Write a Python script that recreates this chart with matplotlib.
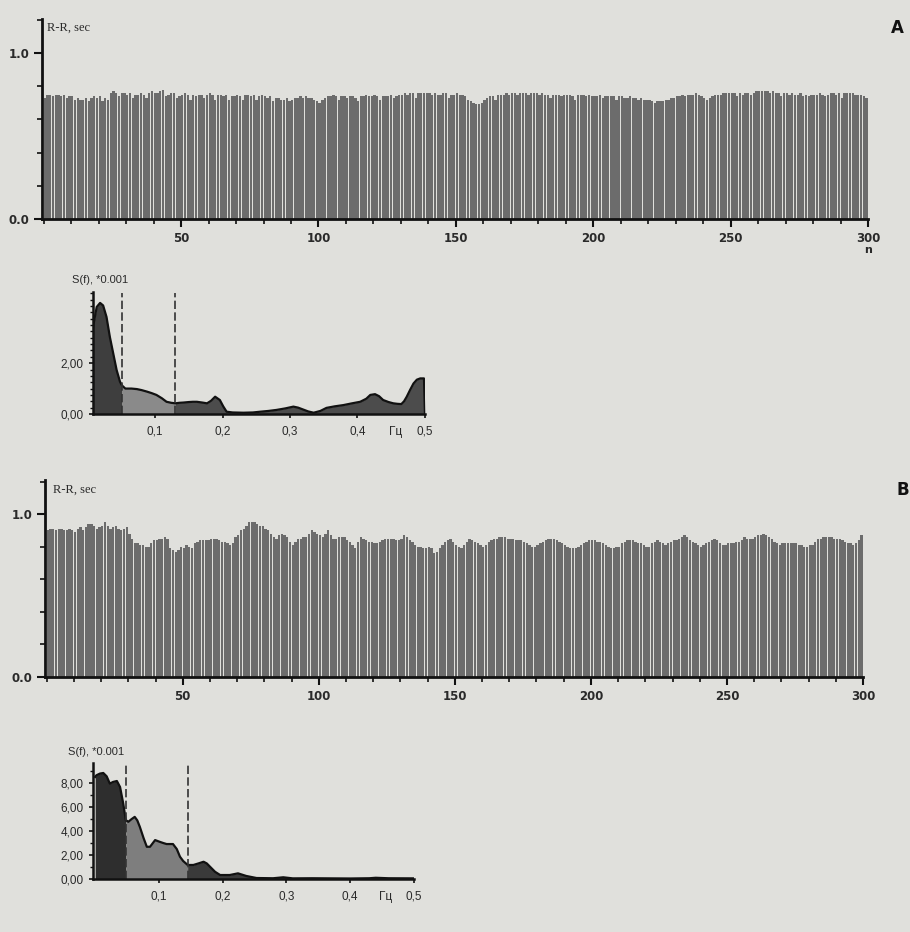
import numpy as np
import matplotlib.pyplot as plt
from matplotlib.ticker import MultipleLocator

BG = "#e0e0dc"
BAR = "#6c6c6c"
INK = "#2a2a2a"

# R-R intervals, sec (beats 1..300)
rr_a = [
    0.73, 0.75, 0.75, 0.74, 0.75, 0.75, 0.74, 0.75, 0.73, 0.74, 0.74, 0.72, 0.73, 0.72, 0.72, 0.73, 0.71, 0.73, 0.74, 0.73,
    0.74, 0.71, 0.73, 0.72, 0.76, 0.77, 0.76, 0.74, 0.76, 0.76, 0.75, 0.76, 0.73, 0.75, 0.75, 0.76, 0.75, 0.73, 0.76, 0.77,
    0.76, 0.76, 0.77, 0.78, 0.74, 0.75, 0.76, 0.76, 0.73, 0.74, 0.75, 0.76, 0.75, 0.72, 0.75, 0.74, 0.75, 0.75, 0.73, 0.75,
    0.76, 0.75, 0.72, 0.75, 0.75, 0.74, 0.75, 0.72, 0.74, 0.74, 0.75, 0.74, 0.72, 0.75, 0.75, 0.74, 0.75, 0.72, 0.74, 0.75,
    0.74, 0.73, 0.74, 0.71, 0.73, 0.73, 0.72, 0.72, 0.73, 0.71, 0.72, 0.73, 0.73, 0.74, 0.73, 0.74, 0.73, 0.73, 0.72, 0.71,
    0.70, 0.72, 0.73, 0.74, 0.74, 0.75, 0.74, 0.72, 0.74, 0.74, 0.73, 0.74, 0.74, 0.73, 0.71, 0.74, 0.74, 0.75, 0.74, 0.74,
    0.75, 0.74, 0.72, 0.74, 0.74, 0.74, 0.75, 0.73, 0.74, 0.75, 0.75, 0.76, 0.75, 0.76, 0.76, 0.73, 0.76, 0.76, 0.76, 0.76,
    0.76, 0.75, 0.76, 0.75, 0.75, 0.76, 0.76, 0.73, 0.75, 0.75, 0.76, 0.75, 0.75, 0.74, 0.72, 0.71, 0.70, 0.69, 0.69, 0.70,
    0.72, 0.73, 0.74, 0.74, 0.72, 0.75, 0.75, 0.75, 0.76, 0.75, 0.76, 0.76, 0.75, 0.76, 0.76, 0.76, 0.75, 0.76, 0.76, 0.76,
    0.75, 0.76, 0.75, 0.75, 0.73, 0.75, 0.75, 0.75, 0.74, 0.75, 0.75, 0.75, 0.74, 0.72, 0.75, 0.75, 0.75, 0.74, 0.75, 0.74,
    0.74, 0.74, 0.75, 0.73, 0.74, 0.74, 0.74, 0.74, 0.72, 0.74, 0.74, 0.73, 0.73, 0.74, 0.73, 0.73, 0.72, 0.73, 0.72, 0.72,
    0.72, 0.71, 0.70, 0.71, 0.71, 0.71, 0.72, 0.72, 0.73, 0.73, 0.74, 0.74, 0.75, 0.74, 0.75, 0.75, 0.75, 0.76, 0.75, 0.74,
    0.73, 0.72, 0.73, 0.74, 0.75, 0.75, 0.75, 0.76, 0.76, 0.76, 0.76, 0.76, 0.74, 0.76, 0.75, 0.76, 0.76, 0.75, 0.76, 0.77,
    0.77, 0.77, 0.77, 0.77, 0.76, 0.77, 0.76, 0.76, 0.74, 0.76, 0.76, 0.75, 0.76, 0.75, 0.75, 0.76, 0.74, 0.75, 0.74, 0.75,
    0.75, 0.75, 0.76, 0.75, 0.74, 0.75, 0.76, 0.76, 0.75, 0.76, 0.73, 0.76, 0.76, 0.76, 0.76, 0.75, 0.75, 0.75, 0.74, 0.73,
]
rr_b = [
    0.90, 0.91, 0.91, 0.90, 0.91, 0.91, 0.90, 0.90, 0.91, 0.90, 0.89, 0.91, 0.92, 0.90, 0.92, 0.94, 0.94, 0.93, 0.91, 0.92,
    0.93, 0.95, 0.93, 0.91, 0.92, 0.93, 0.91, 0.90, 0.91, 0.92, 0.88, 0.85, 0.82, 0.82, 0.81, 0.81, 0.80, 0.80, 0.82, 0.84,
    0.84, 0.85, 0.85, 0.86, 0.85, 0.79, 0.78, 0.77, 0.78, 0.80, 0.79, 0.81, 0.80, 0.79, 0.82, 0.83, 0.84, 0.84, 0.84, 0.84,
    0.85, 0.85, 0.85, 0.84, 0.83, 0.83, 0.82, 0.81, 0.82, 0.86, 0.87, 0.90, 0.91, 0.93, 0.95, 0.95, 0.95, 0.94, 0.93, 0.93,
    0.91, 0.90, 0.88, 0.86, 0.85, 0.87, 0.88, 0.87, 0.86, 0.83, 0.81, 0.83, 0.85, 0.85, 0.86, 0.86, 0.88, 0.90, 0.89, 0.88,
    0.87, 0.86, 0.88, 0.90, 0.87, 0.85, 0.85, 0.86, 0.86, 0.86, 0.84, 0.83, 0.81, 0.79, 0.83, 0.86, 0.85, 0.84, 0.83, 0.83,
    0.82, 0.82, 0.83, 0.84, 0.85, 0.85, 0.85, 0.85, 0.84, 0.84, 0.85, 0.87, 0.86, 0.84, 0.83, 0.81, 0.80, 0.80, 0.79, 0.79,
    0.80, 0.79, 0.76, 0.77, 0.79, 0.81, 0.83, 0.84, 0.85, 0.83, 0.81, 0.80, 0.79, 0.81, 0.83, 0.85, 0.84, 0.83, 0.82, 0.81,
    0.80, 0.81, 0.83, 0.84, 0.85, 0.85, 0.86, 0.86, 0.86, 0.85, 0.85, 0.85, 0.84, 0.84, 0.84, 0.83, 0.82, 0.81, 0.80, 0.80,
    0.81, 0.82, 0.83, 0.84, 0.85, 0.85, 0.85, 0.84, 0.83, 0.82, 0.81, 0.80, 0.79, 0.79, 0.79, 0.80, 0.81, 0.82, 0.83, 0.84,
    0.84, 0.84, 0.83, 0.83, 0.82, 0.81, 0.80, 0.79, 0.79, 0.80, 0.80, 0.82, 0.83, 0.84, 0.84, 0.84, 0.83, 0.82, 0.82, 0.81,
    0.80, 0.80, 0.82, 0.83, 0.84, 0.83, 0.82, 0.81, 0.82, 0.83, 0.84, 0.84, 0.85, 0.86, 0.87, 0.86, 0.84, 0.83, 0.82, 0.81,
    0.80, 0.81, 0.82, 0.83, 0.84, 0.85, 0.84, 0.82, 0.81, 0.81, 0.82, 0.82, 0.82, 0.83, 0.83, 0.84, 0.86, 0.85, 0.85, 0.85,
    0.86, 0.87, 0.87, 0.88, 0.87, 0.86, 0.85, 0.83, 0.82, 0.81, 0.82, 0.82, 0.82, 0.82, 0.82, 0.82, 0.81, 0.81, 0.80, 0.80,
    0.81, 0.81, 0.83, 0.85, 0.85, 0.86, 0.86, 0.86, 0.86, 0.85, 0.85, 0.85, 0.84, 0.83, 0.82, 0.82, 0.81, 0.82, 0.84, 0.87,
]
beat_n = np.arange(1, len(rr_a) + 1)

# spectra S(f) * 0.001, frequency in Hz
spec_a_freq = [0.008, 0.009, 0.0135, 0.0185, 0.023, 0.028, 0.033, 0.038, 0.043, 0.048, 0.051, 0.056,
               0.065, 0.073, 0.080, 0.088, 0.095, 0.102, 0.110, 0.117, 0.124, 0.130, 0.136, 0.142,
               0.150, 0.156, 0.162, 0.170, 0.177, 0.183, 0.189, 0.196, 0.201, 0.206, 0.215, 0.231,
               0.245, 0.256, 0.268, 0.280, 0.293, 0.305, 0.312, 0.319, 0.327, 0.335, 0.345, 0.354,
               0.366, 0.379, 0.392, 0.404, 0.413, 0.419, 0.426, 0.432, 0.438, 0.446, 0.453, 0.459,
               0.465, 0.469, 0.473, 0.478, 0.483, 0.488, 0.493, 0.4985, 0.500]
spec_a_pow = [3.40, 3.56, 4.21, 4.37, 4.27, 3.82, 3.03, 2.38, 1.73, 1.27, 1.12, 1.00,
              1.00, 0.98, 0.94, 0.88, 0.82, 0.75, 0.62, 0.48, 0.44, 0.42, 0.44, 0.45,
              0.47, 0.48, 0.48, 0.45, 0.42, 0.52, 0.68, 0.55, 0.30, 0.09, 0.06, 0.05,
              0.06, 0.09, 0.12, 0.16, 0.22, 0.29, 0.25, 0.18, 0.10, 0.05, 0.12, 0.24,
              0.30, 0.35, 0.42, 0.48, 0.60, 0.75, 0.78, 0.70, 0.55, 0.47, 0.42, 0.40,
              0.39, 0.50, 0.68, 0.95, 1.20, 1.35, 1.40, 1.40, 0.00]
spec_b_freq = [0.0, 0.002, 0.0075, 0.0127, 0.018, 0.023, 0.028, 0.034, 0.039, 0.044, 0.048, 0.052,
               0.057, 0.062, 0.066, 0.070, 0.076, 0.081, 0.086, 0.094, 0.101, 0.107, 0.112, 0.122,
               0.128, 0.133, 0.138, 0.145, 0.154, 0.162, 0.170, 0.175, 0.180, 0.188, 0.196, 0.211,
               0.224, 0.237, 0.253, 0.279, 0.295, 0.310, 0.340, 0.370, 0.400, 0.430, 0.440, 0.460, 0.500]
spec_b_pow = [8.53, 8.67, 8.81, 8.86, 8.58, 7.97, 8.11, 8.19, 7.69, 6.30, 4.92, 4.78,
              5.00, 5.19, 4.90, 4.36, 3.40, 2.69, 2.69, 3.25, 3.11, 3.00, 2.92, 2.92,
              2.50, 1.86, 1.50, 1.17, 1.17, 1.30, 1.44, 1.30, 1.03, 0.60, 0.33, 0.33,
              0.47, 0.25, 0.08, 0.06, 0.14, 0.05, 0.06, 0.05, 0.04, 0.06, 0.10, 0.06, 0.05]
bands_a = (0.051, 0.130)
bands_b = (0.048, 0.145)

rr_xticks = [50, 100, 150, 200, 250, 300]
spec_xticks = [0.1, 0.2, 0.3, 0.4, 0.5]
spec_xticklabels = ["0,1", "0,2", "0,3", "0,4", "0,5"]
spec_a_yticks, spec_a_yticklabels = [0, 2], ["0,00", "2,00"]
spec_b_yticks, spec_b_yticklabels = [0, 2, 4, 6, 8], ["0,00", "2,00", "4,00", "6,00", "8,00"]

NARROW = ["Liberation Sans Narrow", "Liberation Sans", "DejaVu Sans"]

fig = plt.figure(figsize=(9.1, 9.32), dpi=100, facecolor=BG)


def rr_panel(rect, values, ytop):
    ax = fig.add_axes(rect, facecolor="none")
    ax.bar(beat_n - 1, values, width=0.84, align="edge", color=BAR, linewidth=0)
    ax.set_xlim(-0.6, 300)
    ax.set_ylim(0, ytop)
    for s in ("top", "right"):
        ax.spines[s].set_visible(False)
    for s in ("left", "bottom"):
        ax.spines[s].set_linewidth(2)
        ax.spines[s].set_color("#111")
    ax.set_yticks([0.0, 1.0])
    ax.set_yticklabels(["0.0", "1.0"])
    ax.yaxis.set_minor_locator(MultipleLocator(0.2))
    ax.set_xticks(rr_xticks)
    ax.set_xticklabels([str(t) for t in rr_xticks])
    ax.xaxis.set_minor_locator(MultipleLocator(10))
    ax.tick_params(which="major", direction="out", length=6, width=1.5, color="#111",
                   labelsize=8.5, labelcolor=INK, pad=3)
    ax.tick_params(which="minor", direction="out", length=3.5, width=1.2, color="#111")
    for lab in ax.get_xticklabels() + ax.get_yticklabels():
        lab.set_fontweight("bold")
    return ax


def spec_panel(rect, freq, power, bands, xlim, ytop, yticks, ylabels, yminor, colors):
    ax = fig.add_axes(rect, facecolor="none")
    f = np.array(freq)
    p = np.array(power)
    lo, hi = bands
    masks = [f <= lo, (f >= lo) & (f <= hi), f >= hi]
    for m, c in zip(masks, colors):
        ax.fill_between(f[m], 0, p[m], color=c, linewidth=0)
    ax.plot(f, p, color="#111", lw=1.6)
    ax.vlines(bands, 0, ytop * 0.99, colors="#333", linestyles=(0, (5, 2)), lw=1.2)
    ax.set_xlim(*xlim)
    ax.set_ylim(0, ytop)
    for s in ("top", "right"):
        ax.spines[s].set_visible(False)
    for s in ("left", "bottom"):
        ax.spines[s].set_linewidth(1.8)
        ax.spines[s].set_color("#111")
    ax.set_xticks(spec_xticks)
    ax.set_xticklabels(spec_xticklabels, family=NARROW)
    ax.set_yticks(yticks)
    ax.set_yticklabels(ylabels, family=NARROW)
    ax.yaxis.set_minor_locator(MultipleLocator(yminor))
    ax.tick_params(which="major", direction="out", length=3, width=1.2, color="#111",
                   labelsize=8.5, labelcolor=INK, pad=4)
    ax.tick_params(axis="x", which="major", pad=5)
    ax.tick_params(which="minor", direction="out", length=2.5, width=1, color="#111")
    ax.annotate("Гц", xy=(0.456, 0), xycoords=("data", "axes fraction"), xytext=(0, -13),
                textcoords="offset points", ha="center", va="center", fontsize=8.5,
                color=INK, family=NARROW)
    return ax


ax_a = rr_panel([0.0462, 0.7650, 0.9077, 0.2146], rr_a, 1.205)
ax_b = rr_panel([0.0495, 0.2736, 0.8989, 0.2114], rr_b, 1.21)

spec_panel([0.1022, 0.5558, 0.3648, 0.1309], spec_a_freq, spec_a_pow, bands_a,
           (0.008, 0.5), 4.8, spec_a_yticks, spec_a_yticklabels, 0.25,
           ["#3e3e3e", "#8a8a8a", "#4c4c4c"])
spec_panel([0.1025, 0.0569, 0.3524, 0.1245], spec_b_freq, spec_b_pow, bands_b,
           (-0.003, 0.5), 9.7, spec_b_yticks, spec_b_yticklabels, 1.0,
           ["#2e2e2e", "#7e7e7e", "#3a3a3a"])

# labels placed like the printed figure
fig.text(47 / 910, 1 - 28 / 932, "R-R, sec", family="Liberation Serif", fontsize=9,
         color=INK, va="center")
fig.text(53 / 910, 1 - 490 / 932, "R-R, sec", family="Liberation Serif", fontsize=9,
         color=INK, va="center")
fig.text(72 / 910, 1 - 280 / 932, "S(f), *0.001", family=NARROW, fontsize=8,
         color=INK, va="center")
fig.text(68 / 910, 1 - 752 / 932, "S(f), *0.001", family=NARROW, fontsize=8,
         color=INK, va="center")
fig.text(868 / 910, 1 - 250 / 932, "n", fontsize=8, fontweight="bold", color=INK,
         ha="center", va="center")
fig.text(897 / 910, 1 - 28 / 932, "A", fontsize=12, fontweight="bold", color="#111",
         ha="center", va="center")
fig.text(903 / 910, 1 - 490 / 932, "B", fontsize=12, fontweight="bold", color="#111",
         ha="center", va="center")

fig.savefig("out.png", dpi=100, facecolor=BG)
